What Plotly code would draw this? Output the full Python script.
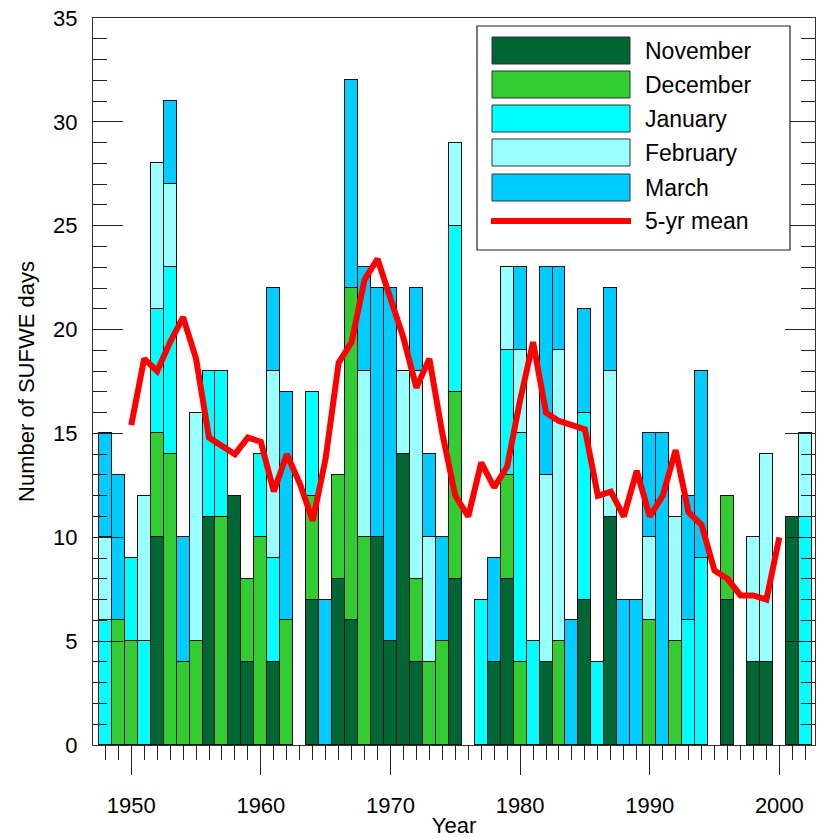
import plotly.graph_objects as go

years = list(range(1948, 2003))

# Monthly SUFWE day counts (stack order: Nov at bottom ... Mar on top)
november = [0, 0, 0, 0, 10, 0, 0, 0, 11, 0, 12, 4, 0, 4, 0, 0, 7, 0, 8, 6,
            0, 10, 5, 14, 4, 0, 0, 8, 0, 0, 4, 8, 0, 0, 4, 0, 0, 7, 0, 11,
            0, 0, 0, 0, 0, 0, 0, 0, 7, 0, 4, 4, 0, 11, 0]
december = [0, 6, 5, 0, 5, 14, 4, 5, 0, 11, 0, 4, 10, 0, 6, 0, 5, 0, 5, 16,
            10, 0, 0, 0, 4, 4, 5, 9, 0, 0, 0, 5, 4, 0, 0, 5, 0, 0, 0, 0,
            0, 0, 6, 0, 5, 0, 0, 0, 5, 0, 0, 0, 0, 0, 0]
january = [6, 0, 4, 5, 6, 9, 0, 0, 7, 7, 0, 0, 4, 5, 0, 0, 5, 0, 0, 0,
           0, 0, 0, 0, 0, 0, 0, 8, 0, 7, 0, 6, 11, 5, 0, 0, 0, 9, 4, 0,
           0, 0, 0, 0, 0, 6, 9, 0, 0, 0, 0, 0, 0, 0, 11]
february = [4, 0, 0, 7, 7, 4, 0, 11, 0, 0, 0, 0, 0, 9, 0, 0, 0, 0, 0, 0,
            8, 0, 0, 4, 10, 6, 0, 4, 0, 0, 0, 4, 4, 0, 9, 14, 0, 0, 0, 7,
            0, 0, 4, 0, 6, 0, 0, 0, 0, 0, 6, 10, 0, 0, 4]
march = [5, 7, 0, 0, 0, 4, 6, 0, 0, 0, 0, 0, 0, 4, 11, 0, 0, 7, 0, 10,
         5, 12, 17, 0, 4, 4, 5, 0, 0, 0, 5, 0, 4, 0, 10, 4, 6, 5, 0, 4,
         7, 7, 5, 15, 0, 6, 9, 0, 0, 0, 0, 0, 0, 0, 0]

mean_years = list(range(1950, 2001))
mean_5yr = [15.4, 18.6, 18.0, 19.4, 20.6, 18.6, 14.8, 14.4, 14.0, 14.8,
            14.6, 12.2, 14.0, 12.6, 10.8, 13.8, 18.4, 19.4, 22.4, 23.4,
            21.4, 19.6, 17.2, 18.6, 15.0, 12.0, 11.0, 13.6, 12.4, 13.4,
            16.6, 19.4, 16.0, 15.6, 15.4, 15.2, 12.0, 12.2, 11.0, 13.2,
            11.0, 12.0, 14.2, 11.2, 10.6, 8.4, 8.0, 7.2, 7.2, 7.0, 10.0]

series_names = ["November", "December", "January", "February", "March"]
series_vals = [november, december, january, february, march]
colors = ["#006633", "#33CC33", "#00FFFF", "#99FFFF", "#00CCFF"]
mean_name = "5-yr mean"

FONT = "Liberation Sans, Arial, Helvetica, sans-serif"
W, H = 817, 838
L, R, T, B = 93, 2, 18, 93
PW, PH = W - L - R, H - T - B

fig = go.Figure()
for name, vals, col in zip(series_names, series_vals, colors):
    fig.add_trace(go.Bar(
        x=years, y=[v if v else None for v in vals], name=name, width=1.0,
        marker=dict(color=col, line=dict(color="#111", width=1)),
        showlegend=False))
fig.add_trace(go.Scatter(x=mean_years, y=mean_5yr, mode="lines", name=mean_name,
                         line=dict(color="#FF0000", width=6), showlegend=False))

# manual legend (paper coordinates derived from pixel layout)
def px(x):
    return (x - L) / PW

def py(y):
    return (H - B - y) / PH

shapes = [dict(type="rect", xref="paper", yref="paper",
               x0=px(477), x1=px(790), y0=py(250), y1=py(26),
               line=dict(color="#222", width=1.2), fillcolor="white", layer="above")]
annotations = []
row_tops = [37, 71, 105, 139, 174]
for name, col, top in zip(series_names, colors, row_tops):
    shapes.append(dict(type="rect", xref="paper", yref="paper",
                       x0=px(492), x1=px(630), y0=py(top + 27), y1=py(top),
                       line=dict(color="#333", width=1), fillcolor=col, layer="above"))
    annotations.append(dict(xref="paper", yref="paper", x=px(643), y=py(top + 14),
                            text=name, showarrow=False, xanchor="left", yanchor="middle",
                            font=dict(family=FONT, size=23, color="black")))
shapes.append(dict(type="line", xref="paper", yref="paper",
                   x0=px(491), x1=px(631), y0=py(221), y1=py(221),
                   line=dict(color="#FF0000", width=6), layer="above"))
annotations.append(dict(xref="paper", yref="paper", x=px(643), y=py(221),
                        text=mean_name, showarrow=False, xanchor="left", yanchor="middle",
                        font=dict(family=FONT, size=23, color="black")))

fig.update_layout(
    width=W, height=H, margin=dict(l=L, r=R, t=T, b=B, autoexpand=False),
    paper_bgcolor="white", plot_bgcolor="white",
    barmode="stack", bargap=0,
    font=dict(family=FONT, size=22, color="black"),
    shapes=shapes, annotations=annotations,
    xaxis=dict(range=[1947.05, 2002.75], tickmode="linear", tick0=1950, dtick=10,
               ticks="outside", ticklen=29, tickcolor="#222", tickwidth=1,
               minor=dict(tickmode="linear", tick0=1950, dtick=1, ticks="outside",
                          ticklen=14, tickcolor="#222", tickwidth=1, showgrid=False),
               showline=True, linecolor="#333", linewidth=1, mirror=True,
               showgrid=False, zeroline=False, ticklabelstandoff=12,
               title=dict(text="Year", standoff=3, font=dict(size=22)),
               automargin=False, layer="above traces"),
    yaxis=dict(range=[0, 35], tickmode="linear", tick0=0, dtick=5,
               ticks="inside", ticklen=30, tickcolor="#222", tickwidth=1,
               minor=dict(tickmode="linear", tick0=0, dtick=1, ticks="inside",
                          ticklen=14, tickcolor="#222", tickwidth=1, showgrid=False),
               showline=True, linecolor="#333", linewidth=1, mirror="ticks",
               showgrid=False, zeroline=False, ticklabelstandoff=10,
               title=dict(text="Number of SUFWE days", standoff=12, font=dict(size=22)),
               automargin=False, layer="above traces"),
)

fig.write_html("out.html")
